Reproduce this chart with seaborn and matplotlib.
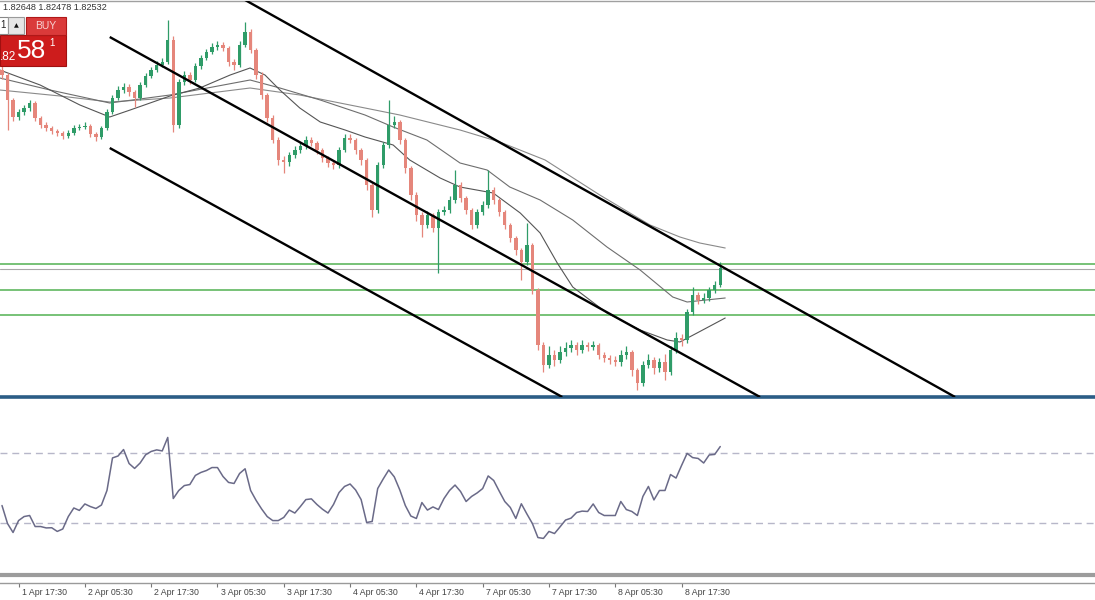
import numpy as np
import pandas as pd
import matplotlib
matplotlib.use("Agg")
import matplotlib.pyplot as plt
import seaborn as sns
from matplotlib.patches import Rectangle

sns.set_theme(style="white")
plt.rcParams['font.family'] = ['Liberation Sans', 'DejaVu Sans']

# ---------------- data (hourly candles, GBPAUD) ----------------
first_open = 1.8456
closes = [1.8451,1.8426,1.8409,1.8414,1.8418,1.8423,1.8408,1.8401,1.8398,1.8395,
          1.8393,1.8390,1.8393,1.8398,1.8399,1.8400,1.8392,1.8389,1.8398,1.8414,
          1.8428,1.8436,1.8439,1.8434,1.8428,1.8441,1.8450,1.8456,1.8461,1.8464,
          1.8486,1.8401,1.8444,1.8451,1.8446,1.8460,1.8468,1.8474,1.8479,1.8481,
          1.8478,1.8464,1.8461,1.8481,1.8494,1.8476,1.8451,1.8431,1.8408,1.8386,
          1.8366,1.8364,1.8371,1.8376,1.8380,1.8386,1.8383,1.8376,1.8368,1.8363,
          1.8361,1.8376,1.8388,1.8386,1.8376,1.8366,1.8341,1.8316,1.8361,1.8381,
          1.8401,1.8404,1.8386,1.8358,1.8331,1.8311,1.8301,1.8311,1.8298,1.8314,
          1.8316,1.8326,1.8341,1.8328,1.8316,1.8301,1.8314,1.8321,1.8336,1.8326,
          1.8314,1.8301,1.8288,1.8276,1.8264,1.8281,1.8236,1.8181,1.8161,1.8171,
          1.8166,1.8174,1.8178,1.8181,1.8176,1.8181,1.8179,1.8181,1.8171,1.8168,
          1.8166,1.8164,1.8171,1.8174,1.8156,1.8143,1.8161,1.8166,1.8158,1.8164,
          1.8154,1.8176,1.8188,1.8186,1.8214,1.8231,1.8226,1.8228,1.8236,1.8241,1.8258]
highs = [1.8460,1.8453,1.8428,1.8417,1.8421,1.8426,1.8425,1.8410,1.8404,1.8400,
         1.8397,1.8395,1.8396,1.8401,1.8402,1.8404,1.8402,1.8394,1.8400,1.8417,
         1.8431,1.8440,1.8443,1.8442,1.8436,1.8444,1.8453,1.8459,1.8465,1.8468,
         1.8506,1.8490,1.8447,1.8455,1.8454,1.8463,1.8471,1.8477,1.8483,1.8485,
         1.8484,1.8480,1.8467,1.8485,1.8504,1.8497,1.8478,1.8454,1.8433,1.8411,
         1.8389,1.8370,1.8374,1.8380,1.8384,1.8390,1.8389,1.8385,1.8378,1.8370,
         1.8366,1.8379,1.8392,1.8392,1.8388,1.8378,1.8368,1.8343,1.8364,1.8384,
         1.8426,1.8410,1.8406,1.8388,1.8360,1.8334,1.8314,1.8315,1.8313,1.8317,
         1.8320,1.8330,1.8356,1.8344,1.8330,1.8318,1.8317,1.8325,1.8356,1.8339,
         1.8328,1.8316,1.8303,1.8290,1.8278,1.8303,1.8283,1.8238,1.8184,1.8180,
         1.8176,1.8180,1.8184,1.8186,1.8184,1.8186,1.8184,1.8185,1.8183,1.8174,
         1.8171,1.8170,1.8176,1.8180,1.8176,1.8158,1.8165,1.8172,1.8169,1.8168,
         1.8172,1.8180,1.8194,1.8192,1.8217,1.8239,1.8234,1.8233,1.8239,1.8245,1.8264]
lows = [1.8447,1.8396,1.8405,1.8406,1.8411,1.8415,1.8405,1.8398,1.8395,1.8392,
        1.8390,1.8387,1.8388,1.8391,1.8396,1.8397,1.8389,1.8385,1.8387,1.8396,
        1.8412,1.8426,1.8433,1.8430,1.8419,1.8426,1.8439,1.8448,1.8454,1.8459,
        1.8462,1.8394,1.8398,1.8441,1.8442,1.8444,1.8457,1.8466,1.8472,1.8476,
        1.8475,1.8460,1.8456,1.8459,1.8479,1.8473,1.8447,1.8427,1.8404,1.8383,
        1.8361,1.8353,1.8360,1.8368,1.8373,1.8377,1.8380,1.8372,1.8364,1.8359,
        1.8357,1.8358,1.8374,1.8383,1.8372,1.8361,1.8336,1.8309,1.8313,1.8358,
        1.8378,1.8398,1.8382,1.8353,1.8326,1.8305,1.8289,1.8298,1.8294,1.8253,
        1.8311,1.8313,1.8323,1.8324,1.8312,1.8297,1.8298,1.8311,1.8318,1.8322,
        1.8310,1.8297,1.8284,1.8271,1.8246,1.8261,1.8232,1.8176,1.8154,1.8158,
        1.8160,1.8163,1.8170,1.8174,1.8171,1.8173,1.8175,1.8176,1.8167,1.8164,
        1.8162,1.8160,1.8160,1.8167,1.8150,1.8136,1.8140,1.8158,1.8152,1.8154,
        1.8146,1.8151,1.8173,1.8180,1.8183,1.8211,1.8222,1.8223,1.8225,1.8233,1.8239]

rsi_values = [39.7,29.4,24.3,31.1,33.4,34.0,27.7,27.7,26.9,27.0,
              24.9,26.3,33.4,38.3,36.9,40.6,39.1,38.0,40.0,48.3,
              66.9,68.0,71.7,63.7,60.9,64.0,68.7,70.6,71.5,70.9,
              78.6,43.7,48.3,51.1,51.7,56.9,58.6,59.7,61.4,61.4,
              56.3,52.9,52.3,58.0,60.7,48.3,42.6,37.7,33.4,31.1,
              31.1,32.9,37.1,35.4,39.1,43.1,43.5,40.3,37.6,35.4,
              40.3,47.1,50.6,52.0,48.6,43.1,30.0,30.6,49.4,54.9,
              60.0,56.1,48.6,39.7,33.7,32.3,41.4,37.1,38.9,37.4,
              43.7,48.3,51.4,47.7,42.0,44.9,46.9,49.4,56.6,54.0,
              47.9,42.0,38.6,32.3,40.7,34.9,29.4,21.4,20.9,24.9,
              23.7,27.5,31.4,32.5,35.7,36.5,36.3,40.6,35.7,34.0,
              34.0,34.0,42.0,37.4,36.3,34.0,44.9,50.6,42.9,48.3,
              48.3,57.4,55.4,62.6,69.5,67.1,66.6,64.0,68.6,68.9,73.4]
rsi_levels = [70, 30]

# moving averages (candle index, price)
ma_fast_t = [-0.4,6.9,14.1,19.5,23.2,30.4,35.8,41.3,44.9,47.6,50.3,53.9,57.6,62.1,65.7,
             70.8,73.8,79.3,82.9,88.9,93.8,97.4,100.5,103.3,109.5,115.5,120.4,122.7,125.8,130.9]
ma_fast_v = [1.8456,1.8441,1.8421,1.8409,1.8416,1.8430,1.8438,1.8451,1.8458,1.8451,1.8436,1.8418,
             1.8404,1.8396,1.8389,1.8381,1.8366,1.8348,1.8339,1.8333,1.8313,1.8293,1.8263,1.8239,
             1.8213,1.8196,1.8186,1.8184,1.8193,1.8208]
ma_mid_t = [-0.4,8.7,19.5,30.4,44.9,50.3,57.6,65.7,70.8,76.9,82.9,87.8,91.9,97.4,103.3,
            109.5,115.5,121.4,124.0,130.9]
ma_mid_v = [1.8448,1.8436,1.8423,1.8431,1.8446,1.8438,1.8426,1.8411,1.8399,1.8386,1.8363,
            1.8356,1.8339,1.8326,1.8306,1.8279,1.8256,1.8229,1.8224,1.8228]
ma_slow_t = [-0.4,10.5,19.5,30.4,44.9,53.9,65.7,72.0,82.9,90.1,98.3,108.2,117.3,122.7,126.3,130.9]
ma_slow_v = [1.8436,1.8430,1.8424,1.8428,1.8438,1.8431,1.8418,1.8411,1.8396,1.8384,1.8366,
             1.8331,1.8301,1.8289,1.8283,1.8278]

# trend channel (candle index, price)
channel_upper = [(44.0, 1.8526), (172.5, 1.8129)]
channel_middle = [(19.5, 1.8489), (137.2, 1.8129)]
channel_lower = [(19.5, 1.8378), (101.4, 1.8129)]

green_levels = [1.8262, 1.8236, 1.8211]
bid_level = 1.8257

tick_pos = [-9, 3, 15, 27, 39, 51, 63, 75, 87, 99, 111, 123]
tick_labels = ["1 Apr 05:30", "1 Apr 17:30", "2 Apr 05:30", "2 Apr 17:30", "3 Apr 05:30",
               "3 Apr 17:30", "4 Apr 05:30", "4 Apr 17:30", "7 Apr 05:30", "7 Apr 17:30",
               "8 Apr 05:30", "8 Apr 17:30"]

header_text = "1.82648 1.82478 1.82532"

# ---------------- figure ----------------
W, H = 1095, 600
fig = plt.figure(figsize=(W / 100, H / 100), dpi=100)
fig.patch.set_facecolor("white")

def fx(px):
    return px / W

def fy(py):
    return 1 - py / H

ax = fig.add_axes([0, fy(397), 1, (397 - 1) / H])
ax_rsi = fig.add_axes([0, fy(575), 1, (575 - 400) / H])
ax_t = fig.add_axes([0, 0, 1, (600 - 583) / H])

xlim = (-0.362, 197.83)

n = len(closes)
idx = np.arange(n)
opens = np.array([first_open] + closes[:-1])
cl = np.array(closes)
hi = np.array(highs)
lo = np.array(lows)
up = cl >= opens
green, red = "#2f9c68", "#e5867b"
colors = np.where(up, green, red)

# wicks and bodies
ax.vlines(idx, lo, hi, colors=colors, linewidth=0.9, zorder=3)
body_lo = np.minimum(opens, cl)
body_h = np.maximum(np.abs(cl - opens), 0.00008)
ax.bar(idx, body_h, bottom=body_lo, width=0.62, color=colors, linewidth=0, zorder=4)

# moving averages
sns.lineplot(x=ma_slow_t, y=ma_slow_v, ax=ax, color="#8a8a8a", linewidth=0.8, zorder=2)
sns.lineplot(x=ma_mid_t, y=ma_mid_v, ax=ax, color="#6e6e6e", linewidth=0.8, zorder=2)
sns.lineplot(x=ma_fast_t, y=ma_fast_v, ax=ax, color="#555555", linewidth=0.8, zorder=2)

# horizontal levels
for lv in green_levels:
    ax.axhline(lv, color="#6cbd6c", linewidth=1.3, zorder=1)
ax.axhline(bid_level, color="#a8a8a8", linewidth=0.8, zorder=1)

# channel
for line in (channel_upper, channel_middle, channel_lower):
    (x0, y0), (x1, y1) = line
    ax.plot([x0, x1], [y0, y1], color="black", linewidth=1.7, zorder=5, solid_capstyle="butt")

ax.set_xlim(*xlim)
ax.set_ylim(1.8129, 1.8525)
ax.set_xticks([])
ax.set_yticks([])
for s in ("left", "right"):
    ax.spines[s].set_visible(False)
ax.spines["top"].set_color("#a0a0a0")
ax.spines["top"].set_linewidth(1.0)
ax.spines["bottom"].set_color("#2b5d86")
ax.spines["bottom"].set_linewidth(2.6)

# RSI
sns.lineplot(x=idx, y=rsi_values, ax=ax_rsi, color="#6a6a88", linewidth=1.1, zorder=3)
for lv in rsi_levels:
    ax_rsi.axhline(lv, color="#b7b7c9", linewidth=1.0, linestyle=(0, (5, 3.5)), zorder=1)
ax_rsi.set_xlim(*xlim)
ax_rsi.set_ylim(0, 100)
ax_rsi.set_xticks([])
ax_rsi.set_yticks([])
for s in ("left", "right", "top"):
    ax_rsi.spines[s].set_visible(False)
ax_rsi.spines["bottom"].set_color("#9c9c9c")
ax_rsi.spines["bottom"].set_linewidth(3)

# time axis
ax_t.set_xticks(tick_pos)
ax_t.set_xlim(*xlim)
ax_t.set_ylim(0, 1)
ax_t.set_yticks([])
ax_t.tick_params(axis="x", top=True, bottom=False, direction="in", length=3,
                 width=0.8, color="#777777", labelbottom=False, labeltop=False)
for s in ("left", "right", "bottom"):
    ax_t.spines[s].set_visible(False)
ax_t.spines["top"].set_color("#9a9a9a")
ax_t.spines["top"].set_linewidth(1.0)
for p, lab in zip(tick_pos, tick_labels):
    ax_t.text(p + 0.55, 0.45, lab, ha="left", va="center", fontsize=6.3, color="#444444",
              clip_on=False)

# header quote text
fig.text(fx(3), fy(8), header_text, ha="left", va="center", fontsize=6.6, color="#333333")

# one-click trading widget
fig.add_artist(Rectangle((fx(0), fy(66)), fx(66), 31 / H, transform=fig.transFigure,
                         facecolor="#cd1c1c", edgecolor="#a01010", linewidth=0.8, zorder=10))
fig.add_artist(Rectangle((fx(26), fy(35)), fx(40), 18 / H, transform=fig.transFigure,
                         facecolor="#da3a3a", edgecolor="#b01818", linewidth=0.8, zorder=10))
fig.add_artist(Rectangle((fx(-2), fy(34)), fx(10), 17 / H, transform=fig.transFigure,
                         facecolor="white", edgecolor="#888888", linewidth=0.8, zorder=10))
fig.add_artist(Rectangle((fx(8), fy(34)), fx(16), 17 / H, transform=fig.transFigure,
                         facecolor="#e6e6e6", edgecolor="#9a9a9a", linewidth=0.8, zorder=10))
fig.text(fx(16), fy(25.5), "▲", ha="center", va="center", fontsize=4.5, color="#111111",
         family=["DejaVu Sans"], zorder=11)
fig.text(fx(0), fy(25.5), "1", ha="left", va="center", fontsize=7, color="#222222", zorder=11)
fig.text(fx(46), fy(26), "BUY", ha="center", va="center", fontsize=7.5, color="#f7d2d2", zorder=11)
fig.text(fx(0), fy(57), ".82", ha="left", va="center", fontsize=8.5, color="white", zorder=11)
fig.text(fx(32), fy(51), "58", ha="center", va="center", fontsize=19, color="white", zorder=11)
fig.text(fx(52), fy(43), "1", ha="center", va="center", fontsize=7, color="white", zorder=11)

fig.savefig("out.png", dpi=100, facecolor="white")
